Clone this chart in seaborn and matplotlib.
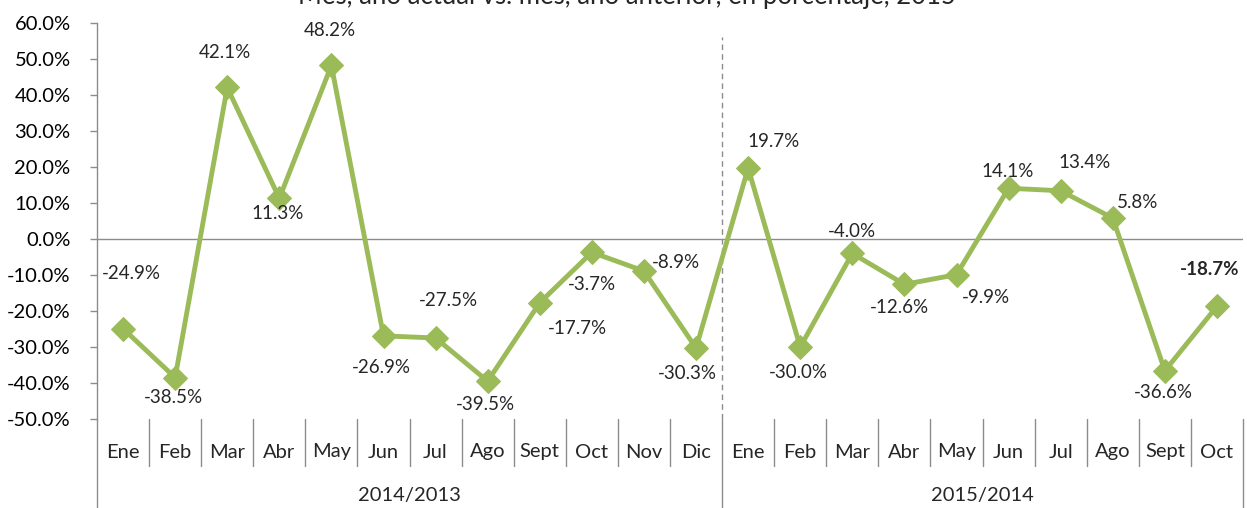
import matplotlib
matplotlib.use("Agg")
import matplotlib.pyplot as plt
import matplotlib.transforms as mtransforms
import seaborn as sns
import pandas as pd
import numpy as np

months = ["Ene", "Feb", "Mar", "Abr", "May", "Jun", "Jul", "Ago", "Sept", "Oct", "Nov", "Dic",
          "Ene", "Feb", "Mar", "Abr", "May", "Jun", "Jul", "Ago", "Sept", "Oct"]
groups = ["2014/2013", "2015/2014"]
group_sizes = [12, 10]
values = [-24.9, -38.5, 42.1, 11.3, 48.2, -26.9, -27.5, -39.5, -17.7, -3.7, -8.9, -30.3,
          19.7, -30.0, -4.0, -12.6, -9.9, 14.1, 13.4, 5.8, -36.6, -18.7]
yticks = [60, 50, 40, 30, 20, 10, 0, -10, -20, -30, -40, -50]
title = "Mes, año actual vs. mes, año anterior, en porcentaje, 2015"

# label offsets in pixels (dx, dy) relative to the marker
label_offsets = [(8, 55), (-2, -20), (-2, 35), (-2, -15), (-2, 35), (-2, -32), (13, 38), (-2, -23),
                 (38, -26), (0, -32), (32, 9), (-9, -25), (25, 27), (-2, -26), (0, 22), (-5, -23),
                 (29, -23), (-1, 17), (24, 28), (25, 16), (-1, -22), (-7, 37)]

sns.set_style("white")
plt.rcParams["font.family"] = ["Lato", "DejaVu Sans"]

green = "#9BBB59"
grey = "#8C8C8C"
fs = 13.5

fig = plt.figure(figsize=(12.47, 5.08), dpi=100)
ax = fig.add_axes([97 / 1247, 1 - 419 / 508, (1243 - 97) / 1247, (419 - 23) / 508])

df = pd.DataFrame({"pos": np.arange(len(values)), "val": values})
sns.lineplot(data=df, x="pos", y="val", ax=ax, color=green, linewidth=3.5,
             marker="D", markersize=12, markeredgecolor=green, markerfacecolor=green)

ax.set_xlim(-0.5, len(values) - 0.5)
ax.set_ylim(-50, 60)
ax.set_yticks(yticks)
ax.set_yticklabels([f"{t:.1f}%" for t in yticks], fontsize=14.5, color="#000000")
ax.tick_params(axis="y", direction="out", length=5, width=1, color=grey, pad=14, left=True)
ax.set_xticks([])
ax.set_xlabel("")
ax.set_ylabel("")

for side in ["top", "right", "bottom"]:
    ax.spines[side].set_visible(False)
ax.spines["left"].set_color(grey)
ax.spines["left"].set_linewidth(1)

ax.axhline(0, color=grey, linewidth=1, zorder=1)

# dashed separator between years
boundary = group_sizes[0] - 0.5
ax.axvline(boundary, ymin=0, ymax=0.965, color=grey, linestyle=(0, (4, 3)), linewidth=1, zorder=1)

# category axis drawn below
trans = mtransforms.blended_transform_factory(ax.transData, ax.transAxes)
px = 1 / (419 - 23)
for i, m in enumerate(months):
    ax.text(i, -33 * px, m, transform=trans, ha="center", va="center", fontsize=14.5)
for b in np.arange(0.5, len(months) - 0.5, 1.0):
    if b == boundary:
        continue
    ax.plot([b, b], [0, -47 * px], transform=trans, color=grey, lw=1, clip_on=False)
edges = [-0.5, boundary, len(months) - 0.5]
for b in edges:
    ax.plot([b, b], [0, -90 * px], transform=trans, color=grey, lw=1, clip_on=False)
start = -0.5
for g, n in zip(groups, group_sizes):
    ax.text(start + n / 2, -77 * px, g, transform=trans, ha="center", va="center", fontsize=14.5)
    start += n

# data labels
for i, (v, (dx, dy)) in enumerate(zip(values, label_offsets)):
    bold = i == len(values) - 1
    ax.annotate(f"{v:.1f}%", (i, v), xytext=(dx * 0.72, dy * 0.72), textcoords="offset points",
                ha="center", va="center", fontsize=fs,
                fontweight="bold" if bold else "normal")

fig.text(0.503, 1 - 4 / 508, title, ha="center", va="baseline", fontsize=18.5)

fig.savefig("out.png", dpi=100)
